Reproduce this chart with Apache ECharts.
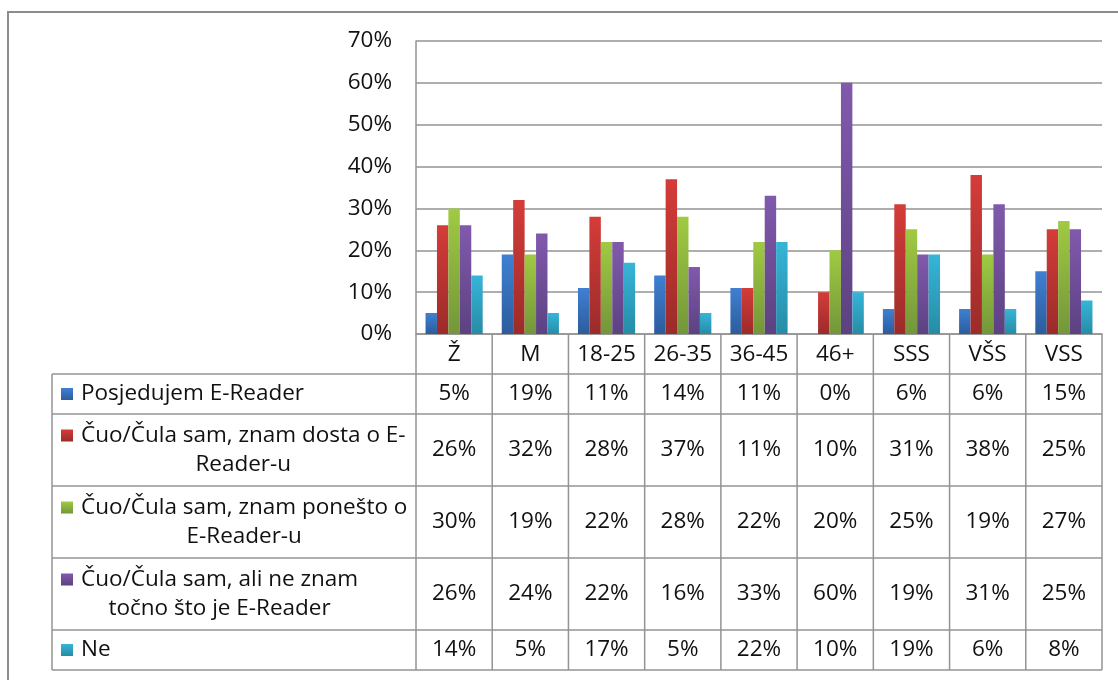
<!DOCTYPE html>
<html><head><meta charset="utf-8">
<script src="https://cdn.jsdelivr.net/npm/echarts@6/dist/echarts.min.js"></script>
<style>html,body{margin:0;padding:0;background:#fff}#c{width:1118px;height:680px}</style>
</head><body><div id="c"></div>
<script>
// ---- data ----
const categories = ['Ž','M','18-25','26-35','36-45','46+','SSS','VŠS','VSS'];
const seriesNames = [
  'Posjedujem E-Reader',
  'Čuo/Čula sam, znam dosta o E-Reader-u',
  'Čuo/Čula sam, znam ponešto o E-Reader-u',
  'Čuo/Čula sam, ali ne znam točno što je E-Reader',
  'Ne'
];
const legendLines = [
  ['Posjedujem E-Reader'],
  ['Čuo/Čula sam, znam dosta o E-', 'Reader-u'],
  ['Čuo/Čula sam, znam ponešto o', 'E-Reader-u'],
  ['Čuo/Čula sam, ali ne znam', 'točno što je E-Reader'],
  ['Ne']
];
const posjedujem = [5,19,11,14,11,0,6,6,15];
const znamDosta  = [26,32,28,37,11,10,31,38,25];
const znamPonesto = [30,19,22,28,22,20,25,19,27];
const neZnam     = [26,24,22,16,33,60,19,31,25];
const ne         = [14,5,17,5,22,10,19,6,8];
const yTicks = [0,10,20,30,40,50,60,70];

// ---- styles ----
const allValues = [posjedujem, znamDosta, znamPonesto, neZnam, ne];
const colorStops = [
  ['#3f80d3','#2c5c9c'],
  ['#d43c39','#9c2b29'],
  ['#a0ca42','#73963a'],
  ['#8159ad','#5c4281'],
  ['#36b5d8','#268ca6']
];
const FONT = '"Open Sans", "Noto Sans", sans-serif';
const FS = 22.5;
const TXT = '#111';
const LINE = '#939393';
const grad = (c) => new echarts.graphic.LinearGradient(0,0,0,1,[{offset:0,color:c[0]},{offset:1,color:c[1]}]);

const chart = echarts.init(document.getElementById('c'), null, {renderer:'canvas'});
const option = {
  animation: false,
  backgroundColor: '#fff',
  grid: {left: 416, right: 16, top: 41, bottom: 346, containLabel: false},
  xAxis: {
    type: 'category', data: categories,
    axisLine: {show: true, lineStyle: {color: LINE, width: 1.5}},
    axisTick: {show: false},
    axisLabel: {interval: 0, hideOverlap: false, fontSize: FS, fontFamily: FONT, color: TXT, margin: 9}
  },
  yAxis: {
    type: 'value', min: yTicks[0], max: yTicks[yTicks.length-1], interval: 10,
    axisLine: {show: true, lineStyle: {color: LINE, width: 1.5}},
    axisTick: {show: false},
    axisLabel: {fontSize: 22.5, fontFamily: FONT, color: TXT, margin: 24, formatter: '{value}%'},
    splitLine: {lineStyle: {color: LINE, width: 1.5}}
  },
  series: allValues.map((vals, k) => ({
    name: seriesNames[k], type: 'bar', data: vals,
    barGap: '0%', barCategoryGap: '25%',
    itemStyle: {color: grad(colorStops[k])}
  }))
};
chart.setOption(option);

// ---- data table built from the axis scale ----
const centers = categories.map((c) => chart.convertToPixel({xAxisIndex: 0}, c));
const step = centers[1] - centers[0];
const xL = centers[0] - step / 2;
const xR = centers[centers.length - 1] + step / 2;
const y0 = chart.convertToPixel({yAxisIndex: 0}, 0);
const legendLeft = 52;
const headerH = 40;
const lineH = 29;
const rowHeights = legendLines.map(l => l.length > 1 ? 72 : 40);
const rowTops = [];
let yy = y0 + headerH;
rowHeights.forEach(h => { rowTops.push(yy); yy += h; });
const yBottom = yy;

const ctx = document.createElement('canvas').getContext('2d');
ctx.font = FS + 'px ' + FONT;

const g = [];
const line = (x1,y1,x2,y2) => g.push({type:'line', silent:true, shape:{x1,y1,x2,y2}, style:{stroke:LINE, lineWidth:1.5}});
// outer border
g.push({type:'rect', silent:true, shape:{x:8,y:12,width:1300,height:900}, style:{fill:null, stroke:'#8c8c8c', lineWidth:2}});
// horizontal table lines
line(legendLeft, y0 + headerH, xR, y0 + headerH);
rowTops.forEach((t,i) => line(legendLeft, t + rowHeights[i], xR, t + rowHeights[i]));
// vertical table lines
line(legendLeft, y0 + headerH, legendLeft, yBottom);
for (let k = 0; k <= categories.length; k++) line(xL + k*step, y0, xL + k*step, yBottom);

// legend column + values
allValues.forEach((vals, r) => {
  const mid = rowTops[r] + rowHeights[r] / 2;
  const lines = legendLines[r];
  const firstMid = mid - (lines.length - 1) * lineH / 2;
  g.push({type:'rect', silent:true, shape:{x:61, y:firstMid-6, width:12, height:12}, style:{fill: grad(colorStops[r])}});
  const maxW = Math.max(...lines.map(s => ctx.measureText(s).width));
  g.push({type:'text', silent:true, style:{
    text: lines.join('\n'), x: 81 + maxW/2, y: mid,
    align:'center', textAlign:'center', verticalAlign:'middle', textVerticalAlign:'middle',
    lineHeight: lineH, fontSize: FS, fontFamily: FONT, fill: TXT,
    font: FS + 'px ' + FONT
  }});
  vals.forEach((v, i) => {
    g.push({type:'text', silent:true, style:{
      text: v + '%', x: centers[i], y: mid,
      align:'center', textAlign:'center', verticalAlign:'middle', textVerticalAlign:'middle',
      fontSize: FS, fontFamily: FONT, fill: TXT, font: FS + 'px ' + FONT
    }});
  });
});
chart.setOption({graphic: {elements: g}});
</script>
</body></html>
